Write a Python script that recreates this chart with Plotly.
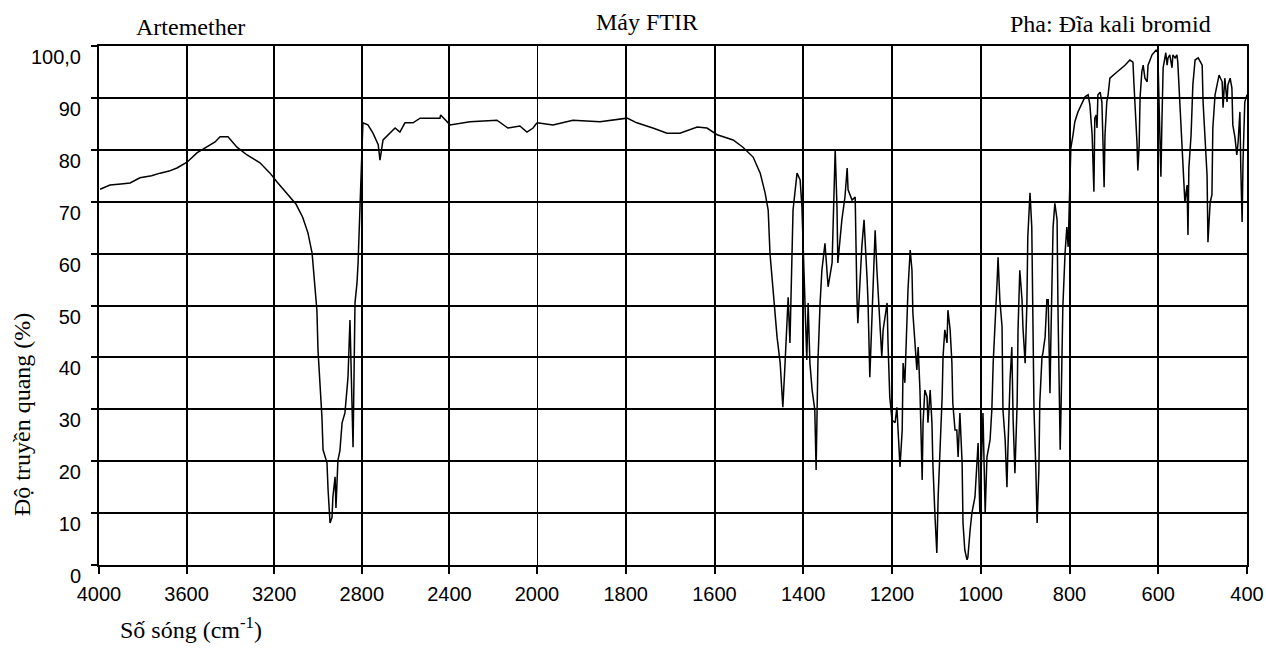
import plotly.graph_objects as go

# ---- data (Artemether, KBr disc) ----
# 4000-2000 cm-1 region (compressed scale on the chart)
wn_high = [3995, 3970, 3950, 3900, 3858, 3813, 3760, 3721, 3680, 3644, 3598, 3553, 3507, 3470,
           3447, 3411, 3370, 3324, 3265, 3219, 3187, 3128, 3100, 3070, 3046, 3027, 3014, 3005,
           3000, 2991, 2982, 2977, 2968, 2959, 2954, 2945, 2936, 2932, 2922, 2918, 2909, 2900,
           2890, 2877, 2868, 2863, 2854, 2845, 2840, 2831, 2822, 2817, 2808, 2800, 2795, 2772,
           2749, 2725, 2717, 2703, 2671, 2648, 2626, 2603, 2566, 2534, 2443, 2440, 2397, 2306,
           2183, 2133, 2078, 2046, 2018, 2000]
t_high = [72.4, 72.8, 73.2, 73.4, 73.6, 74.6, 75.0, 75.5, 75.9, 76.5, 77.6, 79.4, 80.5, 81.5,
          82.5, 82.5, 80.5, 79.0, 77.5, 75.5, 73.8, 71.0, 69.5, 67.0, 64.0, 60.1, 54.3, 49.1,
          41.4, 35.1, 28.5, 22.2, 21.0, 19.7, 14.5, 8.1, 9.2, 13.1, 17.0, 11.0, 20.2, 22.0,
          27.4, 29.3, 33.7, 36.2, 47.2, 29.9, 22.7, 50.5, 54.3, 58.2, 69.7, 80.0, 85.2, 84.8,
          83.2, 81.0, 78.0, 81.9, 83.2, 84.2, 83.4, 85.2, 85.2, 86.1, 86.1, 86.7, 84.8, 85.4,
          85.7, 84.2, 84.6, 83.4, 84.2, 85.2]

# 2000-400 cm-1 region (expanded scale on the chart)
wn_low = [2000, 1964, 1919, 1858, 1797, 1775, 1739, 1707, 1678, 1639, 1617, 1594, 1558, 1536,
          1513, 1497, 1486, 1479, 1475, 1468, 1459, 1452, 1448, 1446, 1441, 1434, 1430, 1423,
          1414, 1407, 1403, 1401, 1396, 1392, 1389, 1385, 1380, 1374, 1371, 1367, 1362, 1358,
          1351, 1344, 1335, 1328, 1324, 1322, 1313, 1306, 1301, 1299, 1290, 1283, 1279, 1277,
          1268, 1263, 1256, 1254, 1250, 1245, 1238, 1234, 1227, 1223, 1220, 1211, 1209, 1205,
          1200, 1193, 1189, 1186, 1182, 1177, 1175, 1171, 1164, 1159, 1155, 1153, 1144, 1141,
          1137, 1132, 1130, 1126, 1121, 1119, 1114, 1110, 1108, 1103, 1099, 1096, 1092, 1087,
          1085, 1081, 1076, 1074, 1069, 1065, 1063, 1058, 1054, 1051, 1047, 1042, 1040, 1036,
          1031, 1029, 1024, 1020, 1013, 1008, 1006, 1002, 997, 995, 990, 986, 979, 975,
          972, 968, 963, 961, 957, 952, 950, 945, 941, 939, 934, 930, 927, 923,
          918, 916, 912, 907, 905, 900, 896, 894, 889, 885, 882, 880, 876, 873,
          869, 867, 862, 860, 855, 851, 848, 844, 842, 839, 837, 833, 828, 826,
          824, 821, 819, 817, 815, 810, 806, 803, 799, 797, 792, 788, 781, 772,
          765, 758, 754, 749, 747, 745, 743, 740, 738, 736, 731, 727, 725, 722,
          720, 716, 713, 709, 693, 675, 664, 657, 655, 650, 648, 646, 643, 641,
          637, 634, 630, 625, 623, 614, 605, 601, 598, 594, 592, 589, 583, 580,
          578, 574, 569, 567, 562, 558, 556, 551, 547, 544, 540, 535, 533, 531,
          526, 522, 517, 510, 501, 499, 495, 490, 488, 483, 479, 477, 472, 468,
          463, 456, 454, 450, 445, 443, 438, 434, 432, 427, 423, 420, 416, 414,
          411, 409, 405, 400]
t_low = [85.2, 84.8, 85.7, 85.4, 86.1, 85.2, 84.2, 83.2, 83.2, 84.4, 84.2, 82.9, 81.9, 80.5,
         78.6, 75.5, 71.7, 68.4, 60.1, 52.4, 43.9, 38.9, 33.7, 30.4, 38.9, 51.6, 42.8, 68.4,
         75.5, 74.2, 69.0, 63.2, 50.5, 39.5, 50.5, 38.9, 33.7, 29.9, 18.3, 38.9, 50.5, 56.8,
         62.0, 53.6, 58.2, 80.0, 69.0, 58.2, 66.5, 70.9, 76.5, 72.3, 70.3, 70.9, 51.6, 46.6,
         61.3, 66.5, 54.9, 50.5, 36.2, 46.6, 64.5, 56.8, 46.6, 40.1, 45.3, 50.5, 42.8, 32.4,
         27.9, 27.4, 30.4, 26.0, 18.9, 26.0, 38.9, 35.1, 53.0, 60.7, 56.8, 48.6, 37.6, 42.0,
         33.7, 16.4, 27.4, 33.7, 32.4, 27.4, 33.7, 27.4, 19.7, 9.2, 2.3, 13.1, 20.8, 32.4,
         40.1, 45.3, 42.8, 49.1, 45.3, 38.9, 31.2, 26.0, 26.0, 20.8, 29.3, 19.7, 8.1, 2.9,
         1.0, 1.5, 6.7, 10.0, 13.1, 19.7, 23.5, 10.0, 23.5, 29.3, 10.0, 20.8, 24.1, 29.9,
         38.9, 45.3, 54.9, 59.3, 51.1, 45.9, 29.9, 24.1, 15.0, 21.6, 35.6, 42.0, 27.9, 17.7,
         31.2, 45.3, 56.8, 51.1, 45.9, 38.9, 50.5, 63.2, 71.7, 65.1, 42.0, 29.9, 18.9, 8.1,
         18.3, 31.2, 40.1, 40.8, 43.9, 51.1, 51.1, 33.1, 43.4, 58.8, 65.1, 69.7, 66.5, 49.7,
         34.3, 22.2, 30.4, 42.0, 49.7, 60.1, 65.1, 61.3, 74.2, 80.3, 82.9, 85.4, 87.3, 89.0,
         90.2, 90.6, 88.6, 82.9, 77.6, 71.9, 86.1, 86.7, 84.2, 90.6, 91.1, 89.2, 82.9, 72.8,
         82.9, 89.2, 90.6, 93.8, 95.0, 96.3, 97.3, 96.9, 93.1, 85.4, 81.5, 76.0, 80.9, 90.0,
         95.0, 96.3, 93.8, 93.1, 96.3, 98.3, 99.2, 98.8, 89.2, 74.8, 84.2, 95.8, 98.7, 96.3,
         97.7, 98.3, 95.8, 98.3, 97.7, 98.3, 96.9, 89.2, 80.9, 76.5, 69.9, 73.2, 63.6, 76.5,
         82.9, 92.5, 97.3, 97.7, 96.3, 89.2, 82.9, 75.1, 62.2, 69.9, 71.3, 84.2, 90.6, 92.5,
         94.4, 93.1, 88.1, 93.8, 89.2, 92.5, 93.8, 91.9, 84.8, 82.3, 79.0, 81.5, 87.3, 76.5,
         66.1, 77.6, 89.2, 90.6]

x_ticks_high = [4000, 3600, 3200, 2800, 2400]
x_ticks_low = [2000, 1800, 1600, 1400, 1200, 1000, 800, 600, 400]
y_ticks = [0, 10, 20, 30, 40, 50, 60, 70, 80, 90, 100]
y_tick_labels = ["0", "10", "20", "30", "40", "50", "60", "70", "80", "90", "100,0"]
scale_break = 2000

SANS = "Liberation Sans"
SERIF = "Liberation Serif"
split = 438 / 1148

fig = go.Figure()
fig.add_trace(go.Scatter(x=wn_high, y=t_high, xaxis="x", yaxis="y", mode="lines",
                         line=dict(color="black", width=1.5), hoverinfo="x+y"))
fig.add_trace(go.Scatter(x=wn_low, y=t_low, xaxis="x2", yaxis="y2", mode="lines",
                         line=dict(color="black", width=1.5), hoverinfo="x+y"))

xcommon = dict(showgrid=True, gridcolor="black", gridwidth=2, zeroline=False,
               showline=True, linecolor="black", linewidth=2, mirror=True,
               ticks="outside", ticklen=7, tickwidth=2, tickcolor="black",
               tickfont=dict(family=SANS, size=20, color="black"), ticklabelstandoff=3,
               automargin=False)

fig.update_layout(
    width=1266, height=648,
    margin=dict(l=99, r=19, t=46, b=83),
    paper_bgcolor="white", plot_bgcolor="white",
    showlegend=False,
    xaxis=dict(domain=[0, split], range=[4000, 2000], tickvals=x_ticks_high,
               anchor="y", **xcommon),
    xaxis2=dict(domain=[split, 1], range=[2000, 400], tickvals=x_ticks_low,
                anchor="y2", **xcommon),
    yaxis=dict(domain=[0, 1], range=[0, 100], tickvals=y_ticks, ticktext=y_tick_labels,
               anchor="x", showgrid=True, gridcolor="black", gridwidth=2, zeroline=False,
               showline=True, linecolor="black", linewidth=2,
               ticks="outside", ticklen=6, tickwidth=2, tickcolor="black",
               tickfont=dict(family=SANS, size=20, color="black"),
               ticklabelshift=11, ticklabelstandoff=6, automargin=False),
    yaxis2=dict(domain=[0, 1], range=[0, 100], matches="y", anchor="x2", side="right",
                tickvals=y_ticks, showticklabels=False, ticks="",
                showgrid=True, gridcolor="black", gridwidth=2, zeroline=False,
                showline=True, linecolor="black", linewidth=2, automargin=False),
    shapes=[
        # grid line at the scale break (2000 cm-1)
        dict(type="line", xref="x2", yref="paper", x0=scale_break, x1=scale_break,
             y0=0, y1=1, line=dict(color="black", width=2)),
    ],
    annotations=[
        dict(text="Artemether", x=(190 - 99) / 1148, y=(565 - 27) / 519, xref="paper", yref="paper",
             showarrow=False, xanchor="center", yanchor="middle",
             font=dict(family=SERIF, size=24, color="black")),
        dict(text="Máy FTIR", x=(647 - 99) / 1148, y=(565 - 22) / 519, xref="paper", yref="paper",
             showarrow=False, xanchor="center", yanchor="middle",
             font=dict(family=SERIF, size=24, color="black")),
        dict(text="Pha: Đĩa kali bromid", x=(1110 - 99) / 1148, y=(565 - 24) / 519,
             xref="paper", yref="paper", showarrow=False, xanchor="center", yanchor="middle",
             font=dict(family=SERIF, size=24, color="black")),
        dict(text="Độ truyền quang (%)", x=(22 - 99) / 1148, y=(565 - 415) / 519,
             xref="paper", yref="paper", showarrow=False, textangle=-90,
             xanchor="center", yanchor="middle",
             font=dict(family=SERIF, size=24, color="black")),
        dict(text="Số sóng (cm<sup>-1</sup>)", x=(191 - 99) / 1148, y=(565 - 628) / 519,
             xref="paper", yref="paper", showarrow=False, xanchor="center", yanchor="middle",
             font=dict(family=SERIF, size=24, color="black")),
    ],
)

# remove the browser's default page margin so the 1266x648 figure fills the window exactly
fig.write_html("out.html", config={"displayModeBar": False},
               post_script="document.body.style.margin='0';document.body.style.overflow='hidden';")
